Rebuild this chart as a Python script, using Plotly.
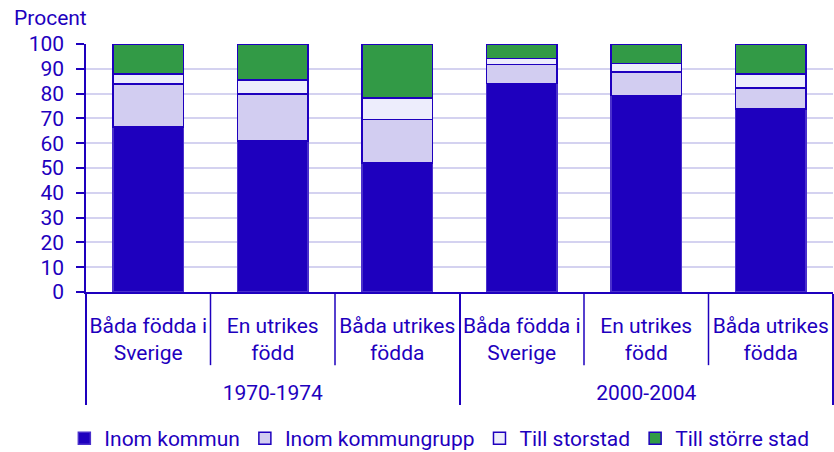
import plotly.graph_objects as go

periods = ["1970-1974"] * 3 + ["2000-2004"] * 3
groups = ["Båda födda i<br>Sverige<br> ", "En utrikes<br>född<br> ", "Båda utrikes<br>födda<br> "] * 2

inom_kommun = [66.5, 60.9, 52.0, 84.0, 79.3, 73.8]
inom_kommungrupp = [17.3, 18.9, 17.5, 7.8, 9.4, 8.5]
till_storstad = [4.2, 5.7, 8.7, 2.4, 3.4, 5.7]
till_storre_stad = [12.0, 14.5, 21.8, 5.8, 7.9, 12.0]

series = [
    ("Inom kommun", inom_kommun, "#1e00be"),
    ("Inom kommungrupp", inom_kommungrupp, "#d2cdf1"),
    ("Till storstad", till_storstad, "#ededfc"),
    ("Till större stad", till_storre_stad, "#329a46"),
]

BLUE = "#1e00be"
FS = 21
fig = go.Figure()
for name, vals, col in series:
    fig.add_trace(go.Bar(
        x=[periods, groups], y=vals, name=name,
        marker=dict(color=col, line=dict(color=BLUE if col != BLUE else "#4a30cc", width=1.5)),
    ))

# sub-category dividers between neighbouring categories
for b in [0.5, 1.5, 3.5, 4.5]:
    fig.add_shape(type="line", xref="x", yref="paper", x0=b, x1=b, y0=0, y1=-0.295,
                  line=dict(color=BLUE, width=1.5))

fig.update_layout(
    barmode="stack",
    bargap=0.43,
    width=834, height=452,
    margin=dict(l=86, r=1, t=44, b=160, autoexpand=False),
    paper_bgcolor="white", plot_bgcolor="white",
    font=dict(family="Roboto", size=FS, color=BLUE),
    showlegend=True,
    legend=dict(orientation="h", x=0.473, xanchor="center", y=-0.508, yanchor="top",
                traceorder="normal", font=dict(size=FS, color=BLUE), itemwidth=30),
    annotations=[dict(text="Procent", xref="paper", yref="paper", x=-0.099, y=1.105,
                      xanchor="left", yanchor="middle", showarrow=False,
                      font=dict(size=FS, color=BLUE))],
)
fig.update_yaxes(range=[0, 100], dtick=10, showgrid=True, gridcolor="#d4d2f0", gridwidth=1.5,
                 showline=True, linecolor=BLUE, linewidth=1.5, ticks="outside", ticklen=8,
                 tickcolor=BLUE, tickwidth=1.5, zeroline=False, ticklabelstandoff=8,
                 tickfont=dict(size=FS, color=BLUE))
fig.update_xaxes(showline=True, linecolor=BLUE, linewidth=1.5, ticks="outside", ticklen=0,
                 tickcolor=BLUE, dividercolor=BLUE, dividerwidth=1.5, showdividers=True,
                 ticklabelstandoff=14,
                 tickfont=dict(size=FS, color=BLUE))

fig.write_html("out.html", config={"displayModeBar": False},
               post_script="document.body.style.margin='0';document.body.style.overflow='hidden';")
